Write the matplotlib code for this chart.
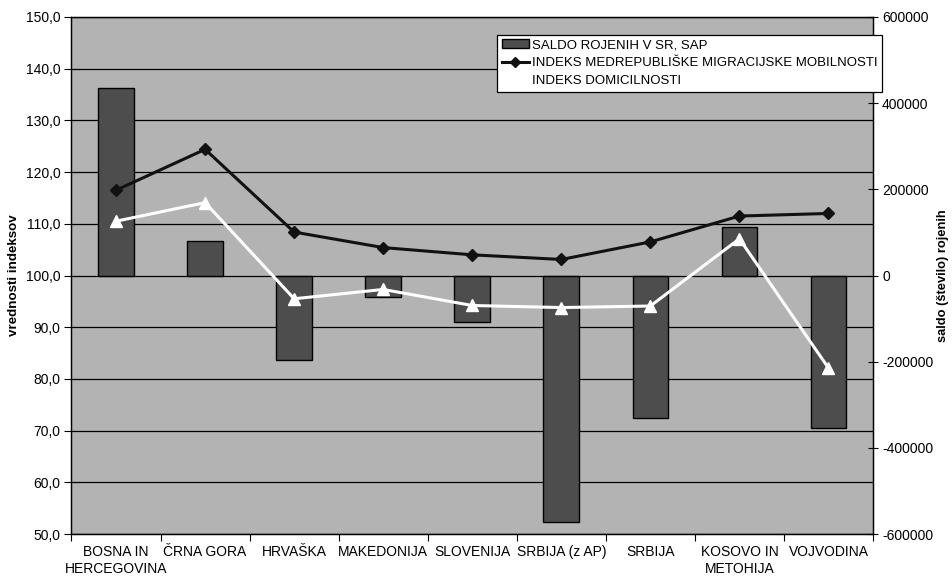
import numpy as np
import matplotlib
matplotlib.use("Agg")
import matplotlib.pyplot as plt
from matplotlib.lines import Line2D
from matplotlib.patches import Patch
from matplotlib.transforms import blended_transform_factory

plt.rcParams['font.family'] = ['Liberation Sans', 'DejaVu Sans']

categories = ["BOSNA IN\nHERCEGOVINA", "ČRNA GORA", "HRVAŠKA", "MAKEDONIJA", "SLOVENIJA",
              "SRBIJA (z AP)", "SRBIJA", "KOSOVO IN\nMETOHIJA", "VOJVODINA"]
saldo = [435000, 81000, -197000, -49000, -108000, -572000, -330000, 113000, -355000]
mobilnost = [116.5, 124.4, 108.4, 105.4, 104.0, 103.1, 106.5, 111.5, 112.0]
domicilnost = [110.5, 114.1, 95.5, 97.3, 94.2, 93.8, 94.1, 107.1, 82.1]

left_ticks = np.arange(50, 151, 10)
right_ticks = np.arange(-600000, 600001, 200000)

FS = 10

fig = plt.figure(figsize=(9.53, 5.77), dpi=100)
ax_bg = fig.add_axes([71.5/953, 1-534/577, (873-71.5)/953, (534-17)/577])
ax_bg.set_facecolor('#B3B3B3')
ax = ax_bg.twinx()

x = np.arange(len(categories))

# bars on right-scale axis (background)
ax_bg.bar(x, saldo, width=0.40, color='#4D4D4D', edgecolor='black', linewidth=1.0, zorder=2)
ax_bg.set_ylim(-600000, 600000)
ax_bg.yaxis.tick_right()
ax_bg.yaxis.set_label_position('right')
ax_bg.set_yticks(right_ticks)
ax_bg.set_yticklabels([str(int(v)) for v in right_ticks])
ax_bg.set_ylabel('saldo (število) rojenih', fontsize=9.3, fontweight='bold', labelpad=3)
ax_bg.tick_params(axis='y', direction='inout', length=7, width=0.8, labelsize=FS, pad=3)

# gridlines at left-axis ticks, under the bars
trans = blended_transform_factory(ax_bg.transAxes, ax.transData)
for t in left_ticks:
    ax_bg.add_line(Line2D([0, 1], [t, t], transform=trans, color='black', lw=0.9, zorder=1))

# lines on left-scale axis (foreground)
ax.plot(x, mobilnost, color='#111111', lw=2.2, marker='D', markersize=6, zorder=3)
ax.plot(x, domicilnost, color='white', lw=2.2, marker='^', markersize=8, zorder=3)
ax.set_ylim(50, 150)
ax.yaxis.tick_left()
ax.yaxis.set_label_position('left')
ax.set_yticks(left_ticks)
ax.set_yticklabels([f"{v:.1f}".replace('.', ',') for v in left_ticks])
ax.set_ylabel('vrednosti indeksov', fontsize=9.6, fontweight='bold', labelpad=4)
ax.tick_params(axis='y', direction='out', length=5, width=0.8, labelsize=FS, pad=3)

for a in (ax, ax_bg):
    a.set_xlim(-0.5, len(categories) - 0.5)
    for s in a.spines.values():
        s.set_color('black')
        s.set_linewidth(0.9)

ax_bg.set_xticks(np.arange(len(categories) + 1) - 0.5)
ax_bg.set_xticklabels([])
ax_bg.set_xticks(x, minor=True)
ax_bg.set_xticklabels(categories, minor=True, fontsize=FS, linespacing=1.3)
ax_bg.tick_params(axis='x', which='major', direction='out', length=5, width=0.8)
ax_bg.tick_params(axis='x', which='minor', length=0, pad=8)
ax.tick_params(axis='x', which='both', bottom=False, labelbottom=False)

handles = [Patch(facecolor='#4D4D4D', edgecolor='black', linewidth=1.0),
           Line2D([], [], color='#111111', lw=2.2, marker='D', markersize=5),
           Line2D([], [], color='white', lw=2.2, marker='^', markersize=6)]
labels = ['SALDO ROJENIH V SR, SAP', 'INDEKS MEDREPUBLIŠKE MIGRACIJSKE MOBILNOSTI', 'INDEKS DOMICILNOSTI']
leg = fig.legend(handles, labels, loc='upper left', bbox_to_anchor=(497/953, 1-34.5/577),
                 fontsize=9.5, frameon=True, fancybox=False, edgecolor='black', framealpha=1,
                 handlelength=2.1, handleheight=0.6, handletextpad=0.2, borderpad=0.35,
                 labelspacing=0.45, borderaxespad=0)
leg.get_frame().set_linewidth(0.9)
leg.set_zorder(10)

fig.savefig('out.png', dpi=100)
